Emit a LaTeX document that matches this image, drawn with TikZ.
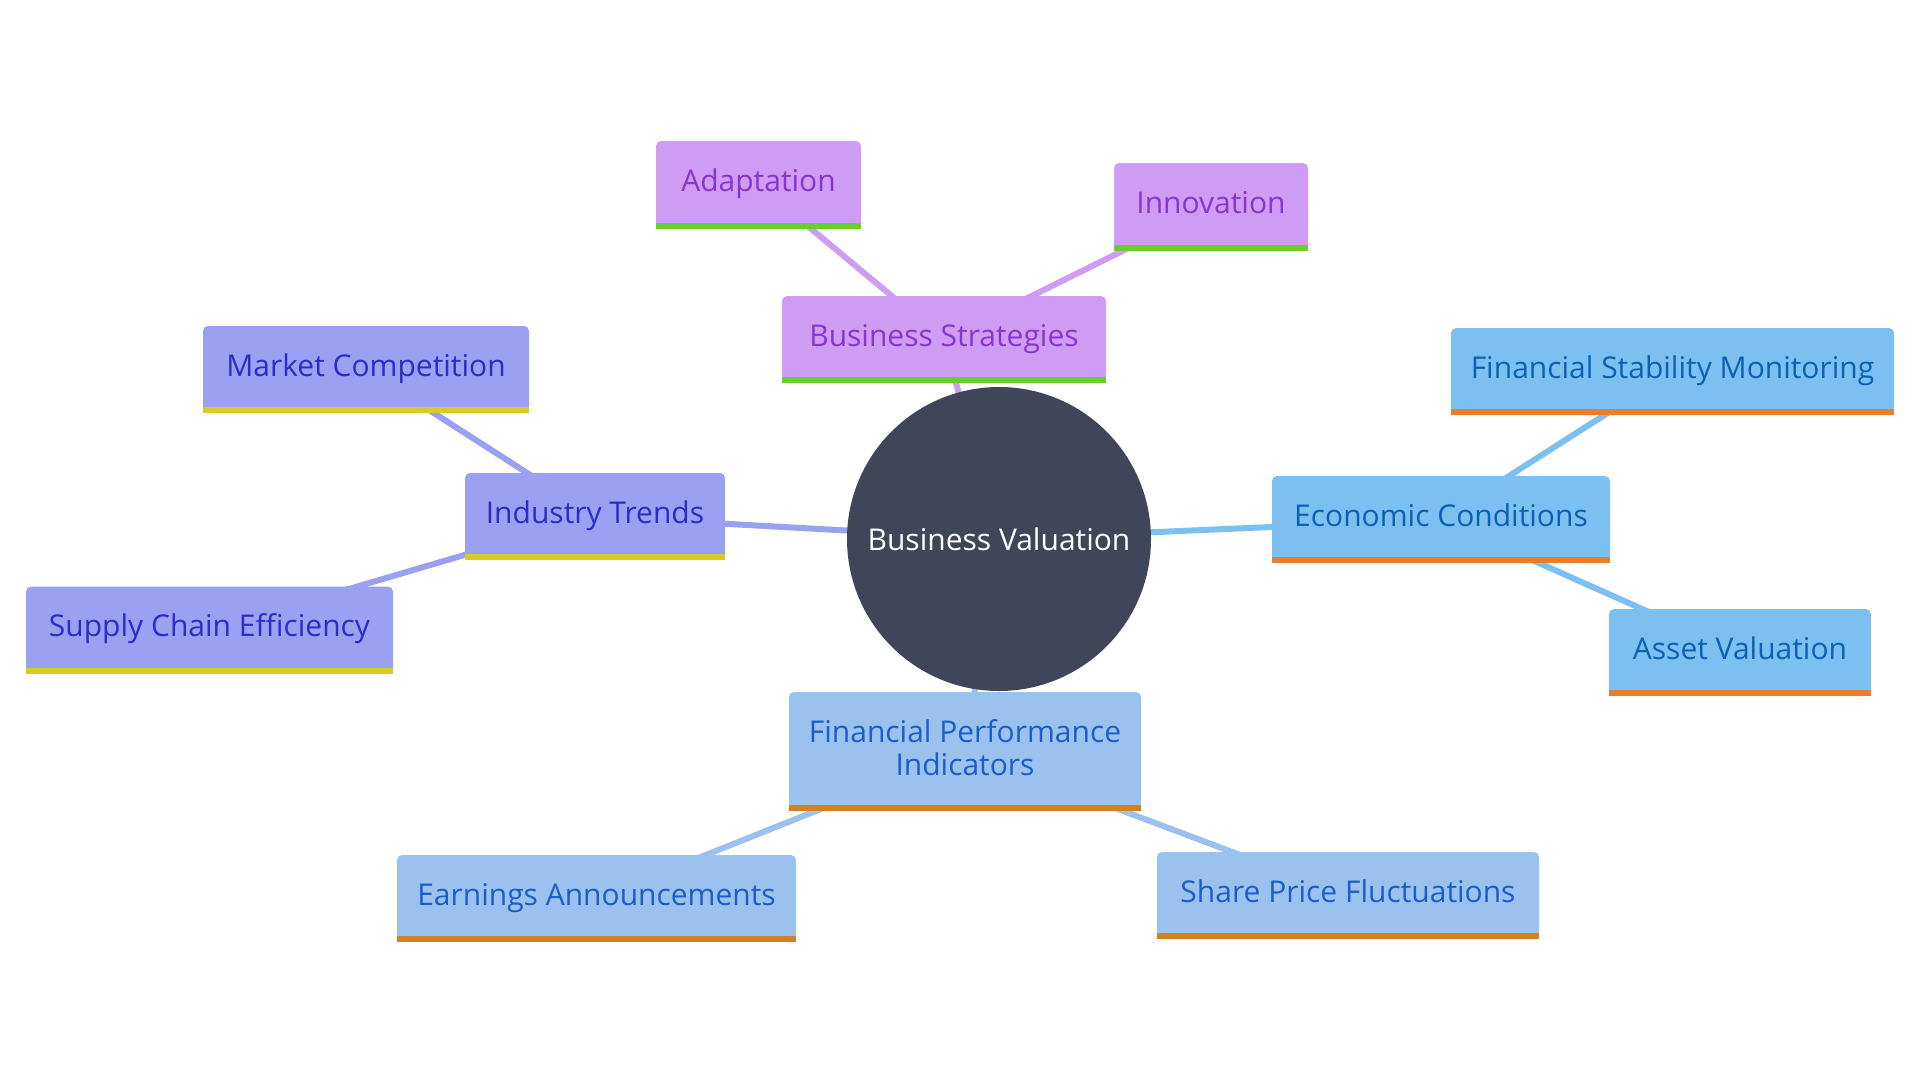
\documentclass[tikz,border=0pt]{standalone}
\usepackage{fontspec}
\setmainfont{Open Sans}
\usetikzlibrary{backgrounds}
\definecolor{purFill}{HTML}{CE9CF2}
\definecolor{purText}{HTML}{8A35CF}
\definecolor{purBar}{HTML}{6BCF2B}
\definecolor{indFill}{HTML}{9AA0F2}
\definecolor{indText}{HTML}{2B2DC4}
\definecolor{indBar}{HTML}{D6CC22}
\definecolor{ecoFill}{HTML}{7BC0F0}
\definecolor{ecoText}{HTML}{0B62B3}
\definecolor{ecoBar}{HTML}{E87F2F}
\definecolor{finFill}{HTML}{9BC2EE}
\definecolor{finText}{HTML}{1A5FC8}
\definecolor{finBar}{HTML}{D4821F}
\definecolor{rootFill}{HTML}{404559}
\tikzset{
  box/.style={rectangle, rounded corners=5pt, inner sep=0pt, align=center,
    font=\fontsize{30}{33}\selectfont, minimum height=87pt},
  oneline/.style={text height=23pt, text depth=9.6pt},
  pur/.style={box, oneline, fill=purFill, text=purText},
  ind/.style={box, oneline, fill=indFill, text=indText},
  eco/.style={box, oneline, fill=ecoFill, text=ecoText},
  fin/.style={box, fill=finFill, text=finText},
  finone/.style={fin, oneline},
  link/.style={line width=6pt},
  root/.style={circle, fill=rootFill, text=white, minimum size=304pt, inner sep=0pt,
    font=\fontsize{30}{33}\selectfont}
}
\begin{document}
\begin{tikzpicture}[x=1pt,y=-1pt]
\useasboundingbox (0,0) rectangle (1920,1080);
\node[root] (root) at (999,539) {Business Valuation};
% Business Strategies
\node[pur, minimum width=324pt] (bs) at (944,339.5) {Business Strategies};
\node[pur, minimum width=205pt, minimum height=88pt] (ad) at (758.5,185) {Adaptation};
\node[pur, minimum width=194pt, minimum height=88pt] (in) at (1211,207) {Innovation};
% Industry Trends
\node[ind, minimum width=260pt] (it) at (595,516.5) {Industry Trends};
\node[ind, minimum width=326pt] (mc) at (366,369.5) {Market Competition};
\node[ind, minimum width=367pt] (sc) at (209.5,630) {Supply Chain Efficiency};
% Economic Conditions
\node[eco, minimum width=338pt] (ec) at (1441,519.5) {Economic Conditions};
\node[eco, minimum width=443pt] (fs) at (1672.5,371.5) {Financial Stability Monitoring};
\node[eco, minimum width=262pt] (av) at (1740,652.5) {Asset Valuation};
% Financial Performance Indicators
\node[fin, minimum width=352pt, minimum height=119pt, text depth=7.4pt] (fp) at (965,751.5) {Financial Performance\\Indicators};
\node[finone, minimum width=399pt] (ea) at (596.5,898.5) {Earnings Announcements};
\node[finone, minimum width=382pt] (sp) at (1348,895.5) {Share Price Fluctuations};
% bars
\foreach \n/\c in {bs/purBar, ad/purBar, in/purBar, it/indBar, mc/indBar, sc/indBar,
  ec/ecoBar, fs/ecoBar, av/ecoBar, fp/finBar, ea/finBar, sp/finBar}{
  \fill[\c] (\n.south west) rectangle ([yshift=6pt]\n.south east);
}
\begin{scope}[on background layer]
\draw[link, purFill] (root.center) -- (bs.center);
\draw[link, purFill] (bs.center) -- (ad.center);
\draw[link, purFill] (bs.center) -- (in.center);
\draw[link, indFill] (root.center) -- (it.center);
\draw[link, indFill] (it.center) -- (mc.center);
\draw[link, indFill] (it.center) -- (sc.center);
\draw[link, ecoFill] (root.center) -- (ec.center);
\draw[link, ecoFill] (ec.center) -- (fs.center);
\draw[link, ecoFill] (ec.center) -- (av.center);
\draw[link, finFill] (root.center) -- (fp.center);
\draw[link, finFill] (fp.center) -- (ea.center);
\draw[link, finFill] (fp.center) -- (sp.center);
\end{scope}
\end{tikzpicture}
\end{document}
